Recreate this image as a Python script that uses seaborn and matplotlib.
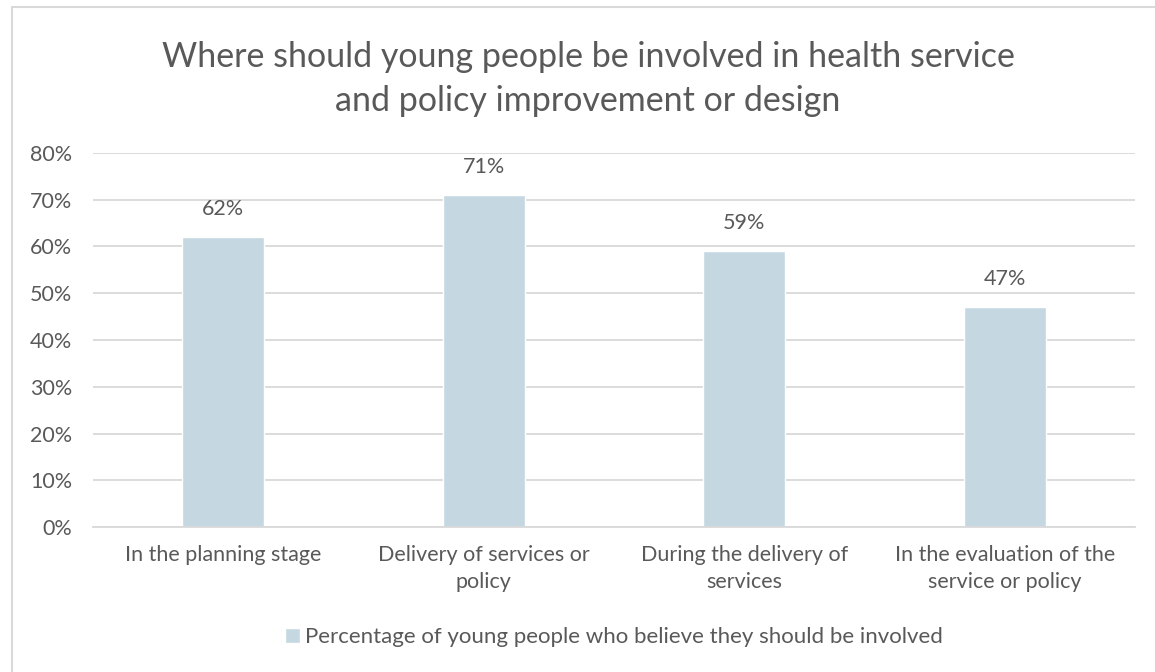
import matplotlib
matplotlib.use("Agg")
import matplotlib.pyplot as plt
from matplotlib.patches import Rectangle
from matplotlib.ticker import FuncFormatter, MultipleLocator
import seaborn as sns
import pandas as pd

categories = [
    "In the planning stage",
    "Delivery of services or\npolicy",
    "During the delivery of\nservices",
    "In the evaluation of the\nservice or policy",
]
values = [0.62, 0.71, 0.59, 0.47]
series_name = "Percentage of young people who believe they should be involved"
title = "Where should young people be involved in health service\nand policy improvement or design"

sns.set_theme(style="white")
plt.rcParams["font.family"] = ["Lato", "DejaVu Sans"]

TEXT = "#595959"
GRID = "#d9d9d9"
BAR = "#c5d8e1"

df = pd.DataFrame({"category": categories, "value": values, "series": series_name})

fig = plt.figure(figsize=(11.55, 6.72), dpi=100)
# chart frame
fig.patches.append(Rectangle((12 / 1155, -0.05), 1.2, 1 - 7 / 672 + 0.05,
                             transform=fig.transFigure, fill=False,
                             edgecolor="#d9d9d9", linewidth=1.5))

ax = fig.add_axes([93 / 1155, 1 - 527 / 672, (1135 - 93) / 1155, (527 - 153) / 672])
sns.barplot(data=df, x="category", y="value", hue="series", palette=[BAR],
            width=0.315, ax=ax, legend=True, saturation=1)

ax.set_ylim(0, 0.8)
ax.yaxis.set_major_locator(MultipleLocator(0.1))
ax.yaxis.set_major_formatter(FuncFormatter(lambda v, _: f"{v * 100:.0f}%"))
ax.set_xlim(-0.5, len(categories) - 0.5)
ax.grid(axis="y", color=GRID, linewidth=1.3)
ax.set_axisbelow(True)
for s in ["left", "right", "top"]:
    ax.spines[s].set_visible(False)
ax.spines["bottom"].set_color(GRID)
ax.spines["bottom"].set_linewidth(1.3)
ax.set_xlabel("")
ax.set_ylabel("")
ax.tick_params(axis="y", length=0, pad=15, labelsize=15.5, labelcolor=TEXT)
ax.tick_params(axis="x", length=0, pad=13, labelsize=15.5, labelcolor=TEXT)
for lbl in ax.get_xticklabels():
    lbl.set_linespacing(1.45)

for c in ax.containers:
    ax.bar_label(c, labels=[f"{v * 100:.0f}%" for v in c.datavalues],
                 padding=13, fontsize=15.5, color=TEXT)

ax.legend(loc="center", bbox_to_anchor=(614 / 1155, 1 - 637 / 672), bbox_transform=fig.transFigure,
          frameon=False, fontsize=16, labelcolor=TEXT, handlelength=0.65,
          handleheight=0.65, handletextpad=0.25)

fig.text(588 / 1155, 1 - 79 / 672, title, ha="center", va="center",
         fontsize=24.5, color=TEXT, linespacing=1.45)

fig.savefig("out.png", dpi=100)
